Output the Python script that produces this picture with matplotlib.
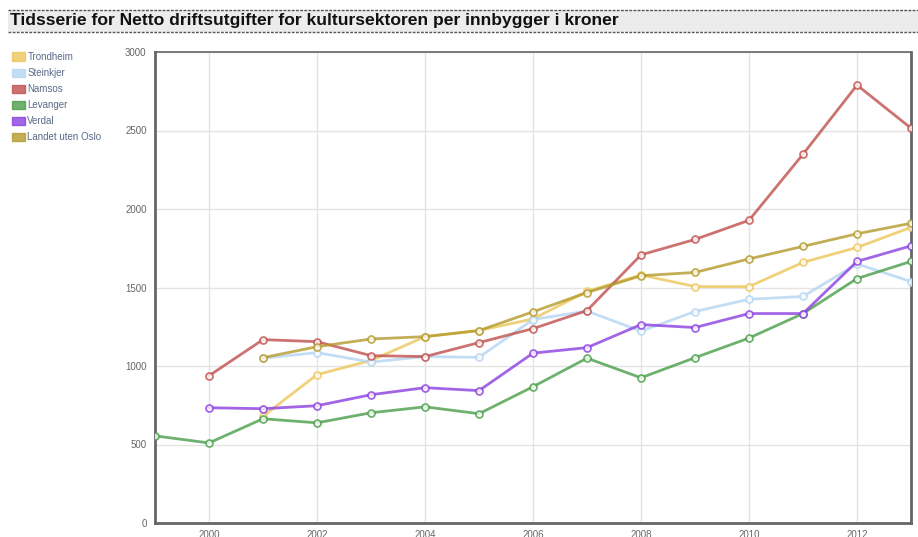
#!/usr/bin/env python3
"""Netto driftsutgifter for kultursektoren per innbygger, tidsserie 1999-2013."""
import matplotlib

matplotlib.use("Agg")
import matplotlib.pyplot as plt
from matplotlib.patches import Patch, Rectangle

plt.rcParams["font.family"] = ["Liberation Sans", "DejaVu Sans"]

TITLE = "Tidsserie for Netto driftsutgifter for kultursektoren per innbygger i kroner"

years = list(range(1999, 2014))
x_ticks = [2000, 2002, 2004, 2006, 2008, 2010, 2012]
y_ticks = [0, 500, 1000, 1500, 2000, 2500, 3000]

# None = no value for that year
trondheim = [None, None, 680, 945, 1035, 1187, 1226, 1300, 1475, 1580, 1506, 1506, 1660, 1755, 1883]
steinkjer = [None, None, 1050, 1085, 1025, 1060, 1055, 1296, 1350, 1222, 1347, 1425, 1443, 1650, 1538]
namsos = [None, 938, 1168, 1155, 1066, 1060, 1149, 1238, 1353, 1708, 1806, 1928, 2349, 2789, 2515]
levanger = [555, 510, 664, 638, 702, 740, 696, 868, 1050, 925, 1053, 1178, 1334, 1557, 1666]
verdal = [None, 734, 728, 747, 817, 862, 843, 1082, 1117, 1264, 1245, 1334, 1334, 1666, 1765]
landet = [None, None, 1053, 1123, 1172, 1187, 1226, 1345, 1468, 1575, 1596, 1682, 1762, 1842, 1909]

series = [
    ("Trondheim", trondheim, "#edc65a"),
    ("Steinkjer", steinkjer, "#b4d6f2"),
    ("Namsos", namsos, "#c0504d"),
    ("Levanger", levanger, "#4a9e4a"),
    ("Verdal", verdal, "#8b3fe0"),
    ("Landet uten Oslo", landet, "#b49a2c"),
]


def main() -> None:
    fig = plt.figure(figsize=(9.18, 5.37), dpi=100)
    ax = fig.add_axes([155 / 918, 1 - 523 / 537, (911 - 155) / 918, (523 - 52) / 537])

    # title band
    fig.patches.append(Rectangle((8 / 918, 1 - 32 / 537), 1, 22 / 537,
                                 transform=fig.transFigure, facecolor="#ececec",
                                 edgecolor="none", zorder=0))
    for yy in (10, 32):
        fig.add_artist(plt.Line2D([8 / 918, 1], [1 - yy / 537] * 2, transform=fig.transFigure,
                                  color="#555555", linestyle=(0, (2, 1)), linewidth=1))
    fig.text(10 / 918, 1 - 21 / 537, TITLE, fontsize=12.6, fontweight="bold",
             va="center", ha="left", color="#111111")

    for name, vals, color in series:
        xs = [y for y, v in zip(years, vals) if v is not None]
        ys = [v for v in vals if v is not None]
        ax.plot(xs, ys, color=color, linewidth=2, alpha=0.8, marker="o",
                markersize=5, markerfacecolor="white", markeredgecolor=color,
                markeredgewidth=1.3, label=name, zorder=3)

    ax.set_xlim(1999, 2013)
    ax.set_ylim(0, 3000)
    ax.set_xticks(x_ticks)
    ax.set_yticks(y_ticks)
    ax.tick_params(axis="both", length=0, labelsize=7, labelcolor="#666666")
    ax.tick_params(axis="y", pad=6)
    ax.tick_params(axis="x", pad=5)
    ax.grid(True, color="#e4e4e4", linewidth=1)
    ax.set_axisbelow(True)
    for side, sp in ax.spines.items():
        sp.set_color("#666666")
        sp.set_linewidth(1.2 if side == "top" else 2)

    handles = [Patch(facecolor=c, edgecolor=c, label=n, alpha=0.8) for n, _, c in series]
    fig.legend(handles=handles, loc="upper left", bbox_to_anchor=(8 / 918, 1 - 48 / 537),
               frameon=False, fontsize=7, handlelength=1.3, handleheight=0.9,
               handletextpad=0.3, labelspacing=0.62, borderaxespad=0,
               labelcolor="#5a6a88")

    fig.savefig("out.png", dpi=100)
    plt.close(fig)


if __name__ == "__main__":
    main()
